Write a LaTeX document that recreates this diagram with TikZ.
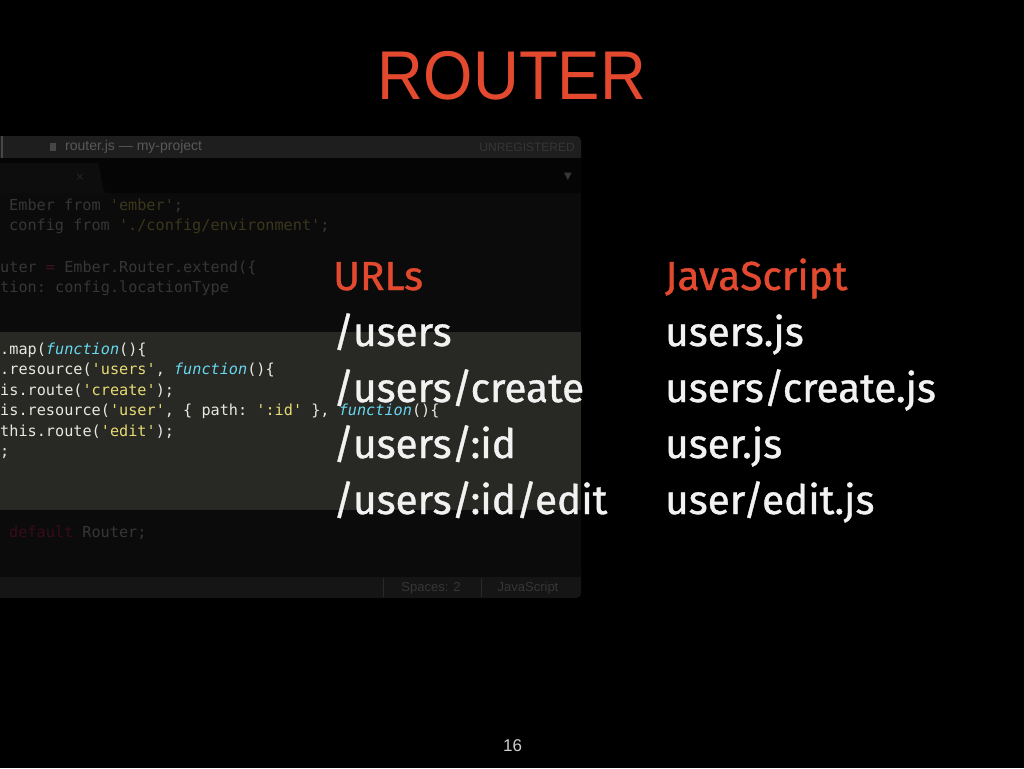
\documentclass[tikz,border=0pt]{standalone}
\usepackage{fontspec}
\setmainfont{Fira Sans}[FakeBold=1]
\setmonofont{DejaVu Sans Mono}
\newfontfamily\headfont{Liberation Sans}
\newfontfamily\symfont{DejaVu Sans}
\usepackage{xcolor}
\usetikzlibrary{positioning}

\definecolor{slidered}{HTML}{E2492F}
\definecolor{slidewhite}{HTML}{F2F2F2}
\definecolor{titlebar}{HTML}{1E1E1E}
\definecolor{tabbar}{HTML}{050505}
\definecolor{tabface}{HTML}{0D0D0D}
\definecolor{codebg}{HTML}{0B0B0B}
\definecolor{linehl}{HTML}{282824}
\definecolor{statusbar}{HTML}{151515}
\definecolor{uigray}{HTML}{363636}
\definecolor{wintext}{HTML}{585858}
\definecolor{dimtext}{HTML}{363636}
\definecolor{dimstr}{HTML}{3B371C}
\definecolor{dimop}{HTML}{3E1222}
\definecolor{dimkw}{HTML}{380C19}
\definecolor{jsplain}{HTML}{E8E8E2}
\definecolor{jsyellow}{HTML}{E6DB74}
\definecolor{jscyan}{HTML}{66D9EF}

\newcommand{\jsstr}[1]{\textcolor{jsyellow}{#1}}
\newcommand{\jsfn}[1]{\textcolor{jscyan}{\itshape #1}}
\newcommand{\dimstr}[1]{\textcolor{dimstr}{#1}}

\tikzset{
    slide-title/.style = {text=slidered, font=\headfont\fontsize{69}{69}\selectfont, anchor=base, inner sep=0pt},
    col-head/.style = {text=slidered, font=\fontsize{40.5}{40.5}\selectfont, anchor=base west, inner sep=0pt},
    col-item/.style = {text=slidewhite, font=\fontsize{40.5}{40.5}\selectfont, anchor=base west, inner sep=0pt},
    code-line/.style = {text=jsplain, font=\ttfamily\fontsize{15.2}{15.2}\selectfont, anchor=base west, inner sep=0pt},
    code-dim/.style = {code-line, text=dimtext},
    ui-text/.style = {text=uigray, font=\headfont\fontsize{12}{12}\selectfont, inner sep=0pt},
    page-num/.style = {text=slidewhite!85!black, font=\headfont\fontsize{17}{17}\selectfont, anchor=base, inner sep=0pt},
}

\begin{document}
\begin{tikzpicture}[x=1pt, y=-1pt]
\useasboundingbox (0,0) rectangle (1024,768);
\fill[black] (0,0) rectangle (1024,768);

% editor window
\begin{scope}
\clip (0,0) rectangle (1024,768);
\fill[codebg, rounded corners=5pt] (-10,136) rectangle (581,598);
\fill[titlebar, rounded corners=5pt] (-10,136) rectangle (581,166);
\fill[tabbar] (-10,158) rectangle (581,193);
\fill[tabface, rounded corners=6pt] (-10,193) -- (-10,163) -- (92,163) .. controls (100,163) and (102,193) .. (112,193) -- cycle;
\fill[linehl] (-10,332) rectangle (581,510);
\fill[statusbar, rounded corners=5pt] (-10,566) rectangle (581,598);
\fill[codebg] (-10,566) rectangle (581,577);
\fill[wintext!70!titlebar] (1,136) rectangle (3,158);
\end{scope}
\draw[uigray!60!statusbar] (383,578) -- (383,597);
\draw[uigray!60!statusbar] (481,578) -- (481,597);

\node[ui-text, fill=wintext!80!black, minimum width=6pt, minimum height=8pt] (fileicon) at (53,147) {};
\node[ui-text, font=\headfont\fontsize{14}{14}\selectfont, text=wintext, anchor=west] (wintitle) at (65,147) {router.js — my-project};
\node[ui-text, anchor=east] (unreg) at (575,147) {UNREGISTERED};
\node[ui-text, font=\symfont\fontsize{11}{11}\selectfont, text=uigray!70!black] (tabclose) at (80,177) {×};
\node[ui-text, font=\symfont\fontsize{10}{10}\selectfont] (tabmenu) at (568,177) {▼};
\node[ui-text, font=\headfont\fontsize{13}{13}\selectfont] (spaces) at (431,588) {Spaces: 2};
\node[ui-text, font=\headfont\fontsize{13}{13}\selectfont] (language) at (528,588) {JavaScript};

% code
\node[code-dim] (c1) at (9,210) {Ember from \dimstr{'ember'};};
\node[code-dim] (c2) at (9,230.5) {config from \dimstr{'./config/environment'};};
\node[code-dim] (c3) at (0,272) {uter \textcolor{dimop}{=} Ember.Router.extend(\{};
\node[code-dim] (c4) at (0,292.5) {tion: config.locationType};
\node[code-line] (c5) at (0,354) {.map(\jsfn{function}()\{};
\node[code-line] (c6) at (0,374.5) {.resource(\jsstr{'users'}, \jsfn{function}()\{};
\node[code-line] (c7) at (0,395) {is.route(\jsstr{'create'});};
\node[code-line] (c8) at (0,415.5) {is.resource(\jsstr{'user'}, \{ path: \jsstr{':id'} \}, \jsfn{function}()\{};
\node[code-line] (c9) at (0,436) {this.route(\jsstr{'edit'});};
\node[code-line] (c10) at (0,456.5) {;};
\node[code-dim] (c11) at (9,537) {\textcolor{dimkw}{default} Router;};

% slide text
\node[slide-title] (title) at (512,99) {\scalebox{0.92}[1]{ROUTER}};

\node[col-head] (urls) at (333,290) {URLs};
\node[col-item] (u1) at (333,346) {/users};
\node[col-item] (u2) at (333,402) {/users/create};
\node[col-item] (u3) at (333,458) {/users/:id};
\node[col-item] (u4) at (333,514) {/users/:id/edit};

\node[col-head] (js) at (665,290) {JavaScript};
\node[col-item] (j1) at (665,346) {users.js};
\node[col-item] (j2) at (665,402) {users/create.js};
\node[col-item] (j3) at (665,458) {user.js};
\node[col-item] (j4) at (665,514) {user/edit.js};

\node[page-num] (pagenum) at (512.5,751) {16};
\end{tikzpicture}
\end{document}
